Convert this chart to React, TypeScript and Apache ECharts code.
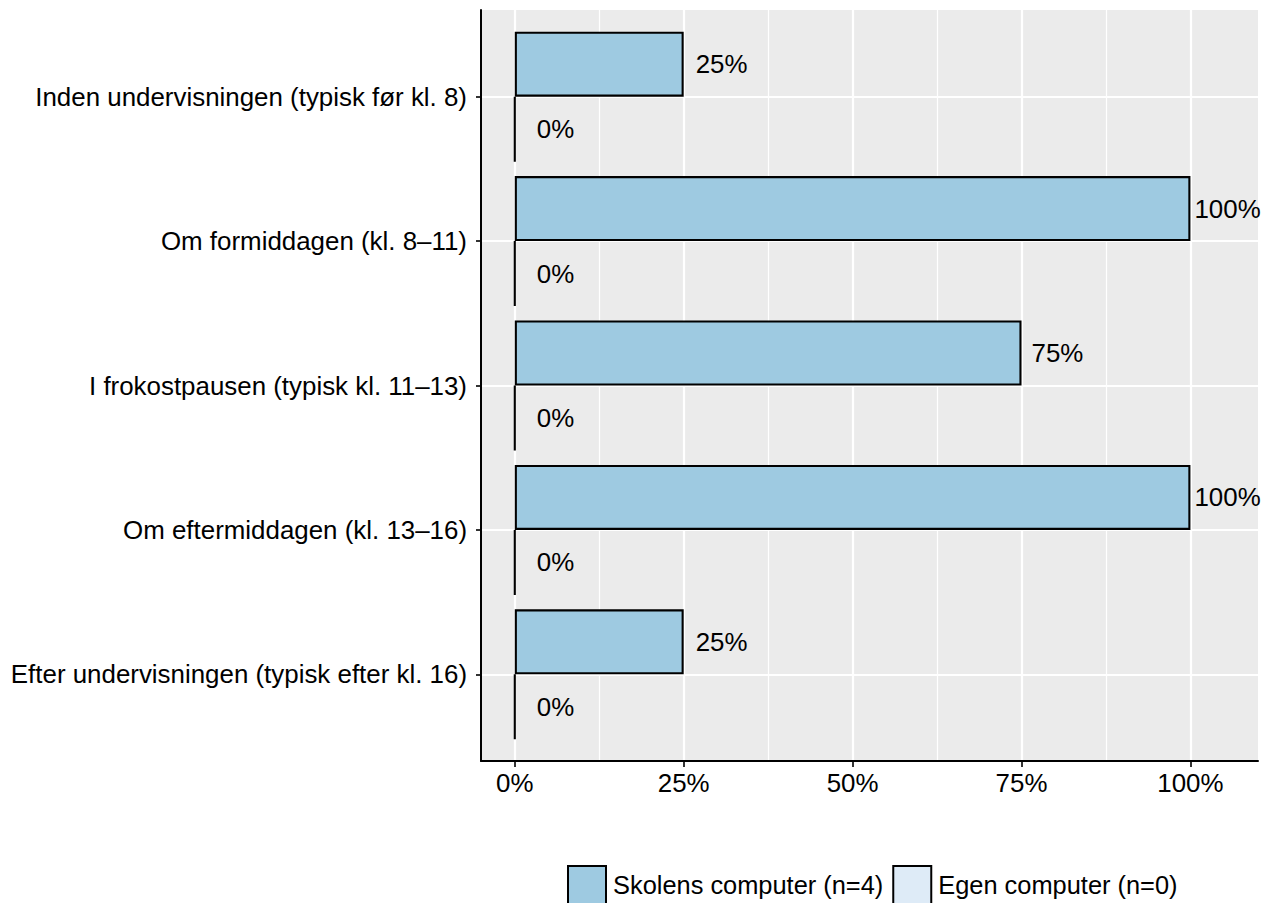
import React, { useEffect, useRef } from "react";
import * as echarts from "echarts";

const categories = [
  "Inden undervisningen (typisk før kl. 8)",
  "Om formiddagen (kl. 8–11)",
  "I frokostpausen (typisk kl. 11–13)",
  "Om eftermiddagen (kl. 13–16)",
  "Efter undervisningen (typisk efter kl. 16)",
];
const seriesNames = ["Skolens computer (n=4)", "Egen computer (n=0)"];
const skolensValues = [25, 100, 75, 100, 25];
const egenValues = [0, 0, 0, 0, 0];
const xTickValues = [0, 25, 50, 75, 100];

const FONT = "'Liberation Sans', Arial, Helvetica, sans-serif";
const FS = 25.9;
const LEGEND_FS = 25.4;
const colors = ["#9ECAE1", "#DEEBF7"];

function labelGap(v: number) {
  if (v === 0) return 21;
  if (v >= 100) return 4;
  if (v >= 75) return 10;
  return 12;
}

export default function App() {
  const ref = useRef<HTMLDivElement>(null);
  useEffect(() => {
    const chart = echarts.init(ref.current!, null, { renderer: "svg" });
    const panel = { left: 481, top: 10, width: 777, height: 751 };
    const xMin = -5;
    const xMax = 110;
    const unit = panel.width / (xMax - xMin);
    const band = panel.height / (categories.length + 0.2);

    const mkBar = (name: string, vals: number[], color: string, z: number) => ({
      name,
      type: "bar",
      xAxisIndex: 2,
      yAxisIndex: 2,
      barGap: "0%",
      barCategoryGap: "10%",
      z,
      itemStyle: { color, borderColor: "#000", borderWidth: 2.1 },
      label: {
        show: true,
        position: "right",
        formatter: "{c}%",
        fontSize: FS,
        fontFamily: FONT,
        color: "#000",
      },
      data: vals.map((v) => ({ value: v, label: { distance: labelGap(v) } })),
    });

    const option: any = {
      animation: false,
      textStyle: { fontFamily: FONT },
      grid: [
        { ...panel, show: true, backgroundColor: "#EBEBEB", borderWidth: 0, z: 0, outerBoundsMode: "none" },
        {
          left: panel.left + (0 - xMin) * unit,
          width: 100 * unit,
          top: panel.top,
          height: panel.height,
          outerBoundsMode: "none",
        },
        {
          left: panel.left,
          width: panel.width,
          top: panel.top + 0.1 * band,
          height: categories.length * band,
          outerBoundsMode: "none",
        },
        {
          left: panel.left,
          width: panel.width,
          top: panel.top + 0.6 * band,
          height: (categories.length - 1) * band,
          outerBoundsMode: "none",
        },
      ],
      xAxis: [
        {
          gridIndex: 0,
          type: "value",
          min: 0,
          max: 1,
          z: 6,
          axisLine: { show: true, onZero: false, lineStyle: { color: "#000", width: 2 } },
          axisTick: { show: false },
          axisLabel: { show: false },
          splitLine: { show: false },
        },
        {
          gridIndex: 1,
          type: "value",
          min: xTickValues[0],
          max: xTickValues[xTickValues.length - 1],
          interval: 25,
          z: 2,
          axisLine: { show: false },
          axisTick: { show: true, length: 6, lineStyle: { color: "#333", width: 2 } },
          axisLabel: {
            show: true,
            formatter: "{value}%",
            fontSize: FS,
            fontFamily: FONT,
            color: "#000",
            margin: 9,
          },
          splitLine: { show: true, lineStyle: { color: "#FFFFFF", width: 2.2 } },
          minorTick: { show: false, splitNumber: 2 },
          minorSplitLine: { show: true, lineStyle: { color: "#FFFFFF", width: 1.2 } },
        },
        {
          gridIndex: 2,
          type: "value",
          min: xMin,
          max: xMax,
          show: false,
        },
        {
          gridIndex: 3,
          type: "value",
          min: 0,
          max: 1,
          show: false,
        },
      ],
      yAxis: [
        {
          gridIndex: 0,
          type: "value",
          min: 0,
          max: 1,
          z: 6,
          axisLine: { show: true, onZero: false, lineStyle: { color: "#000", width: 2 } },
          axisTick: { show: false },
          axisLabel: { show: false },
          splitLine: { show: false },
        },
        {
          gridIndex: 1,
          type: "value",
          min: 0,
          max: 1,
          show: false,
        },
        {
          gridIndex: 2,
          type: "category",
          inverse: true,
          data: categories,
          axisLine: { show: false },
          axisTick: { show: false },
          axisLabel: { show: false },
          splitLine: { show: false },
        },
        {
          gridIndex: 3,
          type: "category",
          inverse: true,
          boundaryGap: false,
          data: categories,
          z: 2,
          axisLine: { show: false },
          axisTick: { show: true, interval: 0, length: 5, lineStyle: { color: "#333", width: 2 } },
          axisLabel: {
            show: true,
            interval: 0,
            fontSize: FS,
            fontFamily: FONT,
            color: "#000",
            margin: 14,
          },
          splitLine: { show: true, interval: 0, lineStyle: { color: "#FFFFFF", width: 2.2 } },
        },
      ],
      legend: {
        data: seriesNames,
        left: 567,
        top: 865,
        padding: 0,
        itemWidth: 38,
        itemHeight: 38,
        itemGap: 9,
        icon: "rect",
        itemStyle: { borderColor: "#000", borderWidth: 2 },
        textStyle: { fontSize: LEGEND_FS, fontFamily: FONT, color: "#000", padding: [0, 0, 0, 2] },
      },
      series: [
        mkBar(seriesNames[0], skolensValues, colors[0], 10),
        mkBar(seriesNames[1], egenValues, colors[1], 10),
      ],
    };
    chart.setOption(option);
    return () => chart.dispose();
  }, []);
  return (
    <div
      ref={ref}
      style={{ position: "fixed", left: 0, top: 0, width: 1271, height: 903, background: "#fff" }}
    />
  );
}
